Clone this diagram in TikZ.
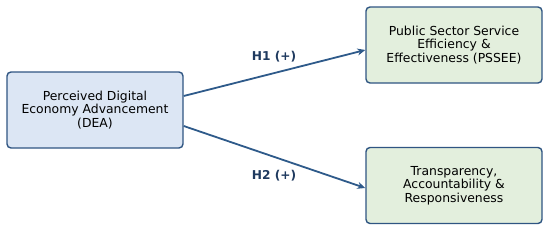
\documentclass[tikz,border=0pt]{standalone}
\usepackage{fontspec}
\setmainfont{DejaVu Sans}
\usetikzlibrary{arrows.meta}

\definecolor{boxline}{HTML}{2F5582}
\definecolor{bluefill}{HTML}{DCE6F4}
\definecolor{greenfill}{HTML}{E3EFDD}
\definecolor{arrowcol}{HTML}{2E5A8A}
\definecolor{labelcol}{HTML}{1F3A5F}

\begin{document}
\begin{tikzpicture}[x=1pt,y=-1pt,
  construct/.style={draw=boxline,line width=1.4pt,rounded corners=4pt,
    minimum width=176pt,minimum height=76pt,align=center,font=\fontsize{12.4}{13.6}\selectfont},
  hyp/.style={draw=arrowcol,line width=1.8pt,-{Stealth[length=8pt,width=7pt]}},
  hyplabel/.style={text=labelcol,font=\fontsize{12.2}{14}\selectfont\bfseries}]
\useasboundingbox (0,0) rectangle (550,233);
\node[construct,fill=bluefill] (dea) at (95,110) {Perceived Digital\\Economy Advancement\\(DEA)};
\node[construct,fill=greenfill] (pssee) at (454,45) {Public Sector Service\\Efficiency \&\\Effectiveness (PSSEE)};
\node[construct,fill=greenfill] (tar) at (454,185.5) {Transparency,\\Accountability \&\\Responsiveness};
\draw[hyp] ([yshift=14pt]dea.east) -- ([yshift=-5pt]pssee.west);
\draw[hyp] ([yshift=-16pt]dea.east) -- ([yshift=-2.5pt]tar.west);
\node[hyplabel] (h1) at (274,57) {H1 (+)};
\node[hyplabel] (h2) at (274,176) {H2 (+)};
\end{tikzpicture}
\end{document}
